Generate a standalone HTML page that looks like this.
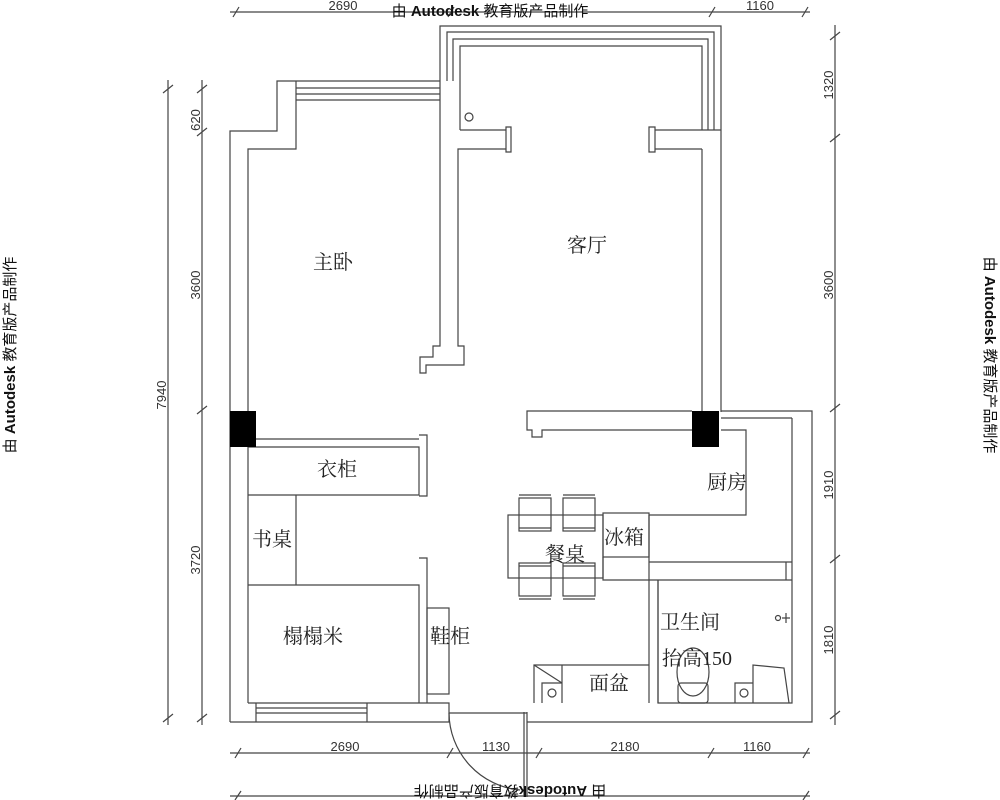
<!DOCTYPE html>
<html><head><meta charset="utf-8"><style>
html,body{margin:0;padding:0;background:#fff;}
svg{display:block;}
text{font-family:"Liberation Serif","Noto Serif CJK SC","Noto Sans CJK SC",serif;fill:#222;}
.d text{font-family:"Liberation Sans Narrow","Liberation Sans",sans-serif;font-size:13px;fill:#333;}
.w text{font-family:"Liberation Sans","Noto Sans CJK SC",sans-serif;font-size:15px;fill:#111;}
</style></head><body>
<svg width="1000" height="800" viewBox="0 0 1000 800" xmlns="http://www.w3.org/2000/svg">
<g fill="none" stroke="#444" stroke-width="1.2">
<line x1="230" y1="12" x2="810" y2="12"/>
<path d="M233 17 L239 7 M448 17 L454 7 M709 17 L715 7 M802 17 L808 7"/>
<line x1="230" y1="753" x2="810" y2="753"/>
<path d="M235 758 L241 748 M447 758 L453 748 M536 758 L542 748 M708 758 L714 748 M803 758 L809 748"/>
<line x1="230" y1="796" x2="810" y2="796"/>
<path d="M235 800 L241 791 M803 800 L809 791"/>
<line x1="168" y1="80" x2="168" y2="725"/>
<line x1="202" y1="80" x2="202" y2="725"/>
<path d="M163 93 L173 85 M197 93 L207 85 M197 136 L207 128 M197 414 L207 406 M163 722 L173 714 M197 722 L207 714"/>
<line x1="835" y1="25" x2="835" y2="725"/>
<path d="M830 40 L840 32 M830 142 L840 134 M830 412 L840 404 M830 563 L840 555 M830 719 L840 711"/>

<path d="M440 81 V26 H721 V130"/>
<path d="M447 81 V32 H714 V130"/>
<path d="M453 81 V39 H708 V130"/>
<path d="M460 130 V46 H702 V130"/>
<path d="M230 722 V131 H277 V81 H440"/>
<path d="M248 703 V149 H296 V81"/>
<path d="M296 88 H440 M296 94 H440 M296 100 H440"/>
<path d="M440 81 V346 H433 V357 H420 V373 H426 V365 H464 V346 H458 V149 H506"/>
<path d="M460 130 H506 M506 127 V152 H511 V127 Z"/>
<path d="M649 127 V152 H655 V127 Z M655 130 H721 M655 149 H702"/>
<path d="M702 149 V412 M721 130 V412"/>
<circle cx="469" cy="117" r="4"/>
<path d="M692 411 H527 V430 H532 V437 H542 V430 H692"/>
<path d="M721 411 H812 V722 H527 M721 418 H792 M721 430 H746 V515 H649 M792 418 V703 H658 V580"/>
<path d="M256 439 H419 M248 447 H419 V495 H248 M419 435 H427 V496 H419"/>
<path d="M296 495 V585 M248 585 H419 V703 M419 558 H427 V703"/>
<rect x="427" y="608" width="22" height="86"/>
<path d="M230 722 H449 V703 H248 M256 708 H367 M256 713 H367 M256 703 V722 M367 703 V722"/>
<path d="M449 713 H527 V722 M524 712 V797 M527 712 V797"/>
<path d="M449 713 A78 78 0 0 0 520 790"/>
<rect x="603" y="513" width="46" height="44"/>
<path d="M603 557 V580 H792 M649 515 V580 M649 562 H792 M786 562 V580"/>
<path d="M649 580 V703 M658 580 V703"/>
<rect x="508" y="515" width="95" height="63"/>
<g>
<rect x="519" y="498" width="32" height="33"/><path d="M519 495 H551 M519 528 H551"/>
<rect x="563" y="498" width="32" height="33"/><path d="M563 495 H595 M563 528 H595"/>
<rect x="519" y="563" width="32" height="33"/><path d="M519 599 H551 M519 566 H551"/>
<rect x="563" y="563" width="32" height="33"/><path d="M563 599 H595 M563 566 H595"/>
</g>
<path d="M534 703 V665 H649 M562 665 V703 M534 665 L562 683 M542 703 V683 H562"/>
<circle cx="552" cy="693" r="4"/>
<ellipse cx="693" cy="672" rx="16" ry="24"/>
<rect x="678" y="683" width="30" height="20" rx="3"/>
<path d="M753 703 V665 L784 668 L789 703 M735 703 V683 H753"/>
<circle cx="744" cy="693" r="4"/>
<circle cx="778" cy="618" r="2.5"/><path d="M782 618 H790 M786 613 V623"/>
</g>
<rect x="230" y="411" width="26" height="36" fill="#000"/>
<rect x="692" y="411" width="27" height="36" fill="#000"/>

<g font-size="20" text-anchor="middle">
<text x="333" y="269">主卧</text>
<text x="587" y="252">客厅</text>
<text x="337" y="476">衣柜</text>
<text x="272" y="546">书桌</text>
<text x="313" y="643">榻榻米</text>
<text x="450" y="643">鞋柜</text>
<text x="727" y="489">厨房</text>
<text x="624" y="544">冰箱</text>
<text x="565" y="561">餐桌</text>
<text x="690" y="629">卫生间</text>
<text x="697" y="665">抬高150</text>
<text x="609" y="690">面盆</text>
</g>
<g class="d" text-anchor="middle">
<text x="343" y="10">2690</text>
<text x="760" y="10">1160</text>
<text x="345" y="751">2690</text>
<text x="496" y="751">1130</text>
<text x="625" y="751">2180</text>
<text x="757" y="751">1160</text>
<text transform="translate(200,120) rotate(-90)">620</text>
<text transform="translate(200,285) rotate(-90)">3600</text>
<text transform="translate(200,560) rotate(-90)">3720</text>
<text transform="translate(166,395) rotate(-90)">7940</text>
<text transform="translate(833,85) rotate(-90)">1320</text>
<text transform="translate(833,285) rotate(-90)">3600</text>
<text transform="translate(833,485) rotate(-90)">1910</text>
<text transform="translate(833,640) rotate(-90)">1810</text>
</g>
<g class="w" text-anchor="middle">
<text x="490" y="16">由 <tspan font-weight="bold">Autodesk</tspan> 教育版产品制作</text>
<text transform="translate(510,786) rotate(180)">由 <tspan font-weight="bold">Autodesk</tspan>教育版产品制作</text>
<text transform="translate(15,355) rotate(-90)">由 <tspan font-weight="bold">Autodesk</tspan> 教育版产品制作</text>
<text transform="translate(985,355) rotate(90)">由 <tspan font-weight="bold">Autodesk</tspan> 教育版产品制作</text>
</g>
</svg>
</body></html>
